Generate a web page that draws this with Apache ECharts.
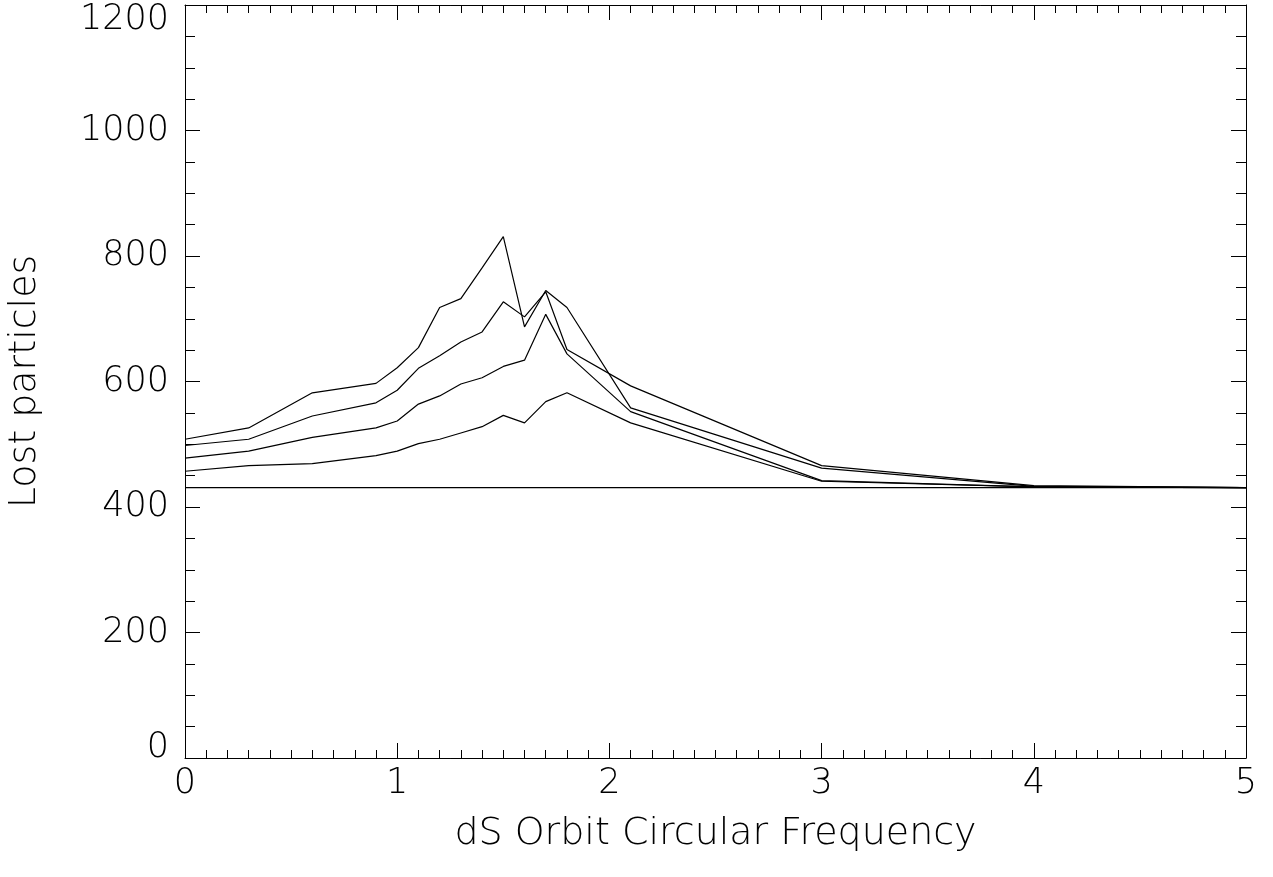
<!DOCTYPE html>
<html>
<head>
<meta charset="utf-8">
<script src="https://cdn.jsdelivr.net/npm/echarts@6/dist/echarts.min.js"></script>
<style>
  html, body { margin: 0; padding: 0; background: #fff; }
  #chart { width: 1273px; height: 877px; }
</style>
</head>
<body>
<div id="chart"></div>
<script>
// Orbit frequency sample points
const freq = [0, 0.3, 0.6, 0.9, 1.0, 1.1, 1.2, 1.3, 1.4, 1.5, 1.6, 1.7, 1.8, 2.1, 3, 4, 5];

// Lost-particle counts, one array per run
const runA = [508, 526, 582, 597, 622, 654, 718, 732, 781, 831, 687, 745, 718, 558, 462, 433, 431];
const runB = [498, 508, 545, 566, 586, 621, 641, 663, 679, 727, 703, 743, 651, 593, 466, 434, 431];
const runC = [478, 489, 511, 526, 537, 564, 577, 596, 606, 624, 634, 707, 644, 552, 442, 432, 431];
const runD = [457, 466, 469, 482, 489, 501, 508, 518, 528, 546, 534, 568, 582, 534, 441, 432, 431];

// Reference level drawn across the whole range
const baseLevel = 431;
const baseX = [0, 5];

const runs = [runA, runB, runC, runD];

const FONT = '"DejaVu Sans", sans-serif';
const INK = '#000';
const Y_MIN = 0;
const Y_MAX = 1200;

function pairs(xs, ys) { return xs.map((x, i) => [x, ys[i]]); }

const series = runs.map(r => ({
  type: 'line',
  data: pairs(freq, r),
  showSymbol: false,
  lineStyle: { color: INK, width: 1.2 },
  animation: false
}));
series.push({
  type: 'line',
  data: baseX.map(x => [x, baseLevel]),
  showSymbol: false,
  lineStyle: { color: INK, width: 1.2 },
  animation: false
});

const axisLine = { show: true, onZero: false, lineStyle: { color: INK, width: 1 } };
const plain = v => String(v);
// end labels of the y axis are nudged inward so they sit clear of the frame corners
const yLabel = v => (v === Y_MAX ? '{top|' + v + '}' : v === Y_MIN ? '{bot|' + v + '}' : String(v));
const yText = { color: INK, fontFamily: FONT, fontWeight: 200, fontSize: 35 };

const chart = echarts.init(document.getElementById('chart'), null, { renderer: 'canvas' });
chart.setOption({
  backgroundColor: '#fff',
  animation: false,
  grid: { left: 185, right: 27, top: 5, bottom: 119, containLabel: false, outerBoundsMode: 'none' },
  xAxis: [{
    type: 'value', min: 0, max: 5, interval: 1,
    axisLine,
    axisTick: { show: true, inside: true, length: 15, lineStyle: { color: INK } },
    minorTick: { show: true, splitNumber: 10, length: 8, lineStyle: { color: INK } },
    splitLine: { show: false },
    axisLabel: { color: INK, fontFamily: FONT, fontWeight: 200, fontSize: 35, margin: 8, formatter: plain },
    name: 'dS Orbit Circular Frequency',
    nameLocation: 'middle', nameGap: 57,
    nameTextStyle: { color: INK, fontFamily: FONT, fontWeight: 200, fontSize: 38 }
  }, {
    type: 'value', min: 0, max: 5, interval: 1, position: 'top',
    axisLine,
    axisTick: { show: true, inside: true, length: 15, lineStyle: { color: INK } },
    minorTick: { show: true, splitNumber: 10, length: 8, lineStyle: { color: INK } },
    splitLine: { show: false },
    axisLabel: { show: false }
  }],
  yAxis: [{
    type: 'value', min: Y_MIN, max: Y_MAX, interval: 200,
    axisLine,
    axisTick: { show: true, inside: true, length: 15, lineStyle: { color: INK } },
    minorTick: { show: true, splitNumber: 4, length: 10, lineStyle: { color: INK } },
    splitLine: { show: false },
    axisLabel: {
      ...yText, margin: 16, formatter: yLabel,
      rich: {
        top: { ...yText, padding: [30, 0, 0, 0] },
        bot: { ...yText, padding: [0, 0, 20, 0] }
      }
    },
    name: 'Lost particles',
    nameLocation: 'middle', nameGap: 141, nameRotate: 90,
    nameTextStyle: { color: INK, fontFamily: FONT, fontWeight: 200, fontSize: 38 }
  }, {
    type: 'value', min: Y_MIN, max: Y_MAX, interval: 200, position: 'right',
    axisLine,
    axisTick: { show: true, inside: true, length: 15, lineStyle: { color: INK } },
    minorTick: { show: true, splitNumber: 4, length: 10, lineStyle: { color: INK } },
    splitLine: { show: false },
    axisLabel: { show: false }
  }],
  series
});
</script>
</body>
</html>
